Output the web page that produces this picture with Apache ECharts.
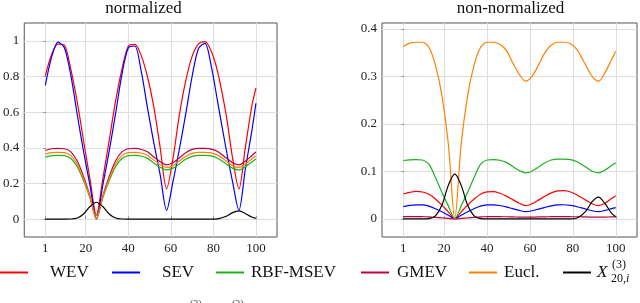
<!DOCTYPE html>
<html><head><meta charset="utf-8">
<script src="https://cdn.jsdelivr.net/npm/echarts@6/dist/echarts.min.js"></script>
<style>html,body{margin:0;padding:0;background:#fff}#c{width:640px;height:303px}</style>
</head><body><div id="c"></div>
<script>
// x positions of the samples
const xs = [1,4,7,10,13,16,19,22,25,28,31,34,37,40,43,46,49,52,55,58,61,64,67,70,73,76,79,82,86,89,92,95,98,100];
// tick labels
const xTicks = [1,20,40,60,80,100];
const yTicksNorm = [0,0.2,0.4,0.6,0.8,1];
const yTicksRaw = [0,0.1,0.2,0.3,0.4];
const titles = ['normalized','non-normalized'];
const names = ['WEV','SEV','RBF-MSEV','GMEV','Eucl.','X'];

// normalized panel
const wevNorm  = [0.804,0.925,0.982,0.975,0.84,0.658,0.437,0.225,0.023,0.225,0.44,0.66,0.84,0.97,0.98,0.92,0.80,0.63,0.40,0.17,0.34,0.585,0.776,0.913,0.983,0.996,0.942,0.826,0.585,0.344,0.17,0.40,0.63,0.735];
const sevNorm  = [0.75,0.91,0.993,0.96,0.806,0.587,0.378,0.19,0.0,0.19,0.38,0.59,0.81,0.96,0.971,0.834,0.626,0.428,0.248,0.05,0.21,0.392,0.59,0.80,0.957,0.986,0.858,0.658,0.392,0.21,0.05,0.28,0.49,0.65];
const rbfNorm  = [0.348,0.356,0.358,0.356,0.34,0.294,0.215,0.118,0.002,0.118,0.215,0.294,0.34,0.356,0.358,0.354,0.341,0.315,0.291,0.276,0.286,0.31,0.336,0.352,0.358,0.358,0.355,0.342,0.31,0.286,0.276,0.294,0.321,0.338];
const gmevNorm = [0.385,0.395,0.397,0.395,0.377,0.326,0.238,0.131,0.005,0.131,0.238,0.326,0.377,0.395,0.397,0.392,0.378,0.349,0.322,0.305,0.316,0.344,0.372,0.391,0.397,0.397,0.393,0.38,0.344,0.316,0.305,0.325,0.356,0.377];
const euclNorm = [0.365,0.373,0.375,0.373,0.356,0.308,0.225,0.124,0.003,0.124,0.225,0.308,0.356,0.373,0.375,0.371,0.357,0.331,0.305,0.29,0.30,0.326,0.352,0.369,0.375,0.375,0.372,0.359,0.326,0.30,0.29,0.309,0.337,0.354];
// non-normalized panel
const wevRaw  = [0.0526,0.056,0.058,0.0568,0.052,0.042,0.029,0.015,0.001,0.015,0.029,0.042,0.052,0.057,0.0576,0.054,0.048,0.0407,0.0332,0.028,0.032,0.0396,0.0479,0.0549,0.0591,0.0598,0.0567,0.0505,0.0396,0.032,0.028,0.033,0.043,0.049];
const sevRaw  = [0.026,0.0285,0.0298,0.0298,0.027,0.0216,0.015,0.0078,0.0005,0.0078,0.015,0.0216,0.027,0.0295,0.0298,0.0283,0.0253,0.0216,0.018,0.0155,0.0173,0.0208,0.0245,0.0277,0.0296,0.0299,0.0285,0.0257,0.0208,0.0173,0.0155,0.018,0.0216,0.024];
const rbfRaw  = [0.123,0.1245,0.125,0.124,0.115,0.0875,0.056,0.0275,0.001,0.0275,0.056,0.0875,0.115,0.124,0.125,0.1236,0.1191,0.1104,0.102,0.097,0.1005,0.1092,0.1182,0.124,0.126,0.126,0.1248,0.1205,0.1092,0.1005,0.097,0.1032,0.1123,0.1185];
const gmevRaw = [0.0047,0.0048,0.0048,0.0047,0.0044,0.0034,0.0022,0.0011,0.0,0.0011,0.0022,0.0034,0.0044,0.0047,0.0048,0.0047,0.0046,0.0043,0.004,0.0038,0.0039,0.0042,0.0045,0.0047,0.0048,0.0048,0.0047,0.0046,0.0042,0.0039,0.0038,0.004,0.0043,0.0045];
const euclRaw = [0.363,0.37,0.372,0.372,0.361,0.324,0.26,0.158,0.0,0.158,0.26,0.324,0.361,0.372,0.372,0.368,0.355,0.329,0.305,0.29,0.30,0.324,0.35,0.366,0.372,0.372,0.369,0.356,0.324,0.30,0.29,0.308,0.335,0.353];
// X^{(3)}_{20,i} (same in both panels)
const xCol = [0,0,0,0,0.0008,0.0066,0.029,0.0707,0.095,0.0707,0.029,0.0066,0.0008,0,0,0,0,0,0,0,0,0,0,0,0,0,0,0.0021,0.016,0.0365,0.046,0.032,0.0123,0.0047];

const colors = ['#ff0000','#0000ff','#1db31d','#bf0040','#ff8000','#000000'];
const FONT = 'Liberation Serif';
const pair = ys => xs.map((x,i)=>[x, ys[i]]);

function mkX(gi){
  return {type:'value', gridIndex:gi, min:-8.9, max:109.9,
    axisLine:{show:false},
    axisTick:{show:true, inside:true, length:3, customValues:xTicks, lineStyle:{color:'#999'}},
    axisLabel:{customValues:xTicks, fontFamily:FONT, fontSize:13, color:'#222', margin:5},
    splitLine:{show:true, lineStyle:{color:'#dedede', width:1}}};
}
function mkY(gi, min, max, ticks){
  return {type:'value', gridIndex:gi, min:min, max:max,
    axisLine:{show:false},
    axisTick:{show:true, inside:true, length:3, customValues:ticks, lineStyle:{color:'#999'}},
    axisLabel:{customValues:ticks, fontFamily:FONT, fontSize:13, color:'#222', margin:5},
    splitLine:{show:true, lineStyle:{color:'#dedede', width:1}}};
}
const normSets = [wevNorm, sevNorm, rbfNorm, gmevNorm, euclNorm, xCol];
const rawSets = [wevRaw, sevRaw, rbfRaw, gmevRaw, euclRaw, xCol];
const series = [];
[normSets, rawSets].forEach((sets, gi) => {
  sets.forEach((ys, k) => {
    series.push({type:'line', name:names[k], xAxisIndex:gi, yAxisIndex:gi,
      data:pair(ys), showSymbol:false, smooth:0.3, animation:false,
      lineStyle:{color:colors[k], width:1.2}, itemStyle:{color:colors[k]}});
  });
});
const legLefts = [0,112,216,361,469,563];
const legPads = [17,17,2,3,2,1];
const legend = names.map((n,k)=>({data:[n], left:legLefts[k], top:264, padding:0, icon:'rect',
  itemWidth:28, itemHeight:2, selectedMode:false,
  formatter: n==='X' ? 'X' : '{name}',
  textStyle:{fontFamily:FONT, fontSize:17, color:'#111', padding:[0,0,0,legPads[k]], fontStyle: n==='X'?'italic':'normal'}}));

const chart = echarts.init(document.getElementById('c'));
chart.setOption({
  animation:false,
  title:[
    {text:titles[0], left:143.5, top:0, padding:0, textAlign:'center', textStyle:{fontFamily:FONT, fontSize:17, fontWeight:'normal', color:'#111'}},
    {text:titles[1], left:510.5, top:0, padding:0, textAlign:'center', textStyle:{fontFamily:FONT, fontSize:17, fontWeight:'normal', color:'#111'}}
  ],
  grid:[
    {left:21, top:23, width:256, height:214, show:true, borderColor:'#555', borderWidth:1, containLabel:false},
    {left:382, top:23, width:255, height:214, show:true, borderColor:'#555', borderWidth:1, containLabel:false}
  ],
  xAxis:[mkX(0), mkX(1)],
  yAxis:[mkY(0,-0.1,1.1,yTicksNorm), mkY(1,-0.038,0.4125,yTicksRaw)],
  legend: legend,
  series: series,
  graphic:[
    {type:'text', left:612, top:259, style:{text:'(3)', fontFamily:FONT, fontSize:12, fill:'#111'}},
    {type:'text', left:611, top:273, style:{text:'{a|20,}{b|i}', fontFamily:FONT, fontSize:12, fill:'#111',
      rich:{a:{fontFamily:FONT, fontSize:12, fill:'#111'}, b:{fontFamily:FONT, fontSize:12, fontStyle:'italic', fill:'#111'}}}},
    {type:'text', left:190, top:299, style:{text:'(3)', fontFamily:FONT, fontSize:10, fill:'#444'}},
    {type:'text', left:232, top:299, style:{text:'(3)', fontFamily:FONT, fontSize:10, fill:'#444'}}
  ]
});
</script></body></html>
